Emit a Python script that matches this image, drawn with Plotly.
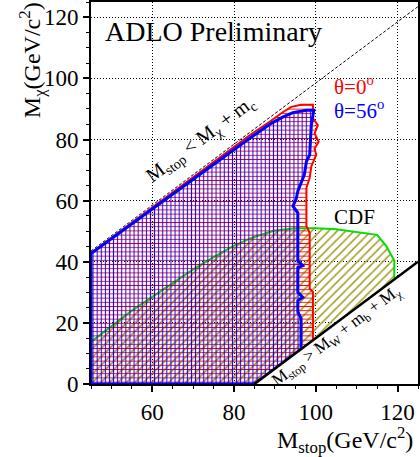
import plotly.graph_objects as go

# ---------------- data ----------------
# theta = 0 deg excluded region (red)
red_x = [45, 85, 99.3, 99.3, 98.5, 98.5, 97.7, 97.7, 98.5, 98.9, 100.1, 99.7, 100.7,
         99.7, 100.5, 99.3, 99.3, 96.4, 94.0, 92.0, 88.7, 83.8, 45, 45]
red_y = [0, 0, 14.3, 30.1, 31.2, 49.5, 51.7, 64.2, 67.4, 71.2, 75.0, 77.1, 79.3,
         82.0, 84.7, 86.9, 91.4, 91.4, 90.7, 89.0, 85.8, 81.4, 42.9, 0]

# theta = 56 deg excluded region (blue)
blue_x = [45, 85, 96.4, 96.4, 95.6, 95.6, 96.8, 95.6, 95.6, 96.8, 95.6, 95.6, 94.4,
          95.2, 95.6, 96.4, 97.2, 97.7, 98.5, 98.9, 99.3, 99.5, 97.7, 94.4, 92.0,
          89.1, 83.8, 45, 45]
blue_y = [0, 0, 11.4, 21.4, 23.6, 27.3, 28.4, 30.0, 38.1, 38.7, 40.4, 56.0, 58.2,
          60.5, 63.1, 65.8, 68.5, 72.8, 75.0, 84.7, 88.0, 89.6, 89.6, 88.8, 87.4,
          85.3, 80.4, 42.7, 0]

# CDF excluded region (green)
cdf_x = [45, 50, 55, 60, 65, 70, 75, 80, 85, 90, 95, 100, 105, 110, 115, 117.2,
         119.2, 119.2, 85, 45, 45]
cdf_y = [13.8, 19.0, 24.0, 28.5, 33.0, 37.5, 41.5, 45.3, 48.2, 50.2, 51.0, 51.0,
         50.6, 49.8, 48.8, 45.2, 40.4, 34.2, 0, 0, 13.8]

# kinematic limits
diag_x = [45, 125]          # M_stop = M_chi + m_c
diag_y = [43.5, 123.5]
kin_x = [85, 125]           # M_stop = M_W + m_b + M_chi
kin_y = [0, 40]
white_x = [85, 125, 125, 85]
white_y = [0, 0, 40, 0]

x_ticks = [60, 80, 100, 120]
y_ticks = [0, 20, 40, 60, 80, 100, 120]

FONT = "Liberation Serif"

fig = go.Figure()

fig.add_trace(go.Scatter(
    x=cdf_x, y=cdf_y, mode="lines", fill="toself",
    fillcolor="rgba(0,0,0,0)",
    fillpattern=dict(shape="/", size=6, solidity=0.25, fgcolor="#a09a1e",
                     bgcolor="rgba(0,0,0,0)", fillmode="replace"),
    line=dict(color="#00e000", width=2), hoverinfo="skip"))

fig.add_trace(go.Scatter(
    x=red_x, y=red_y, mode="lines", fill="toself",
    fillcolor="rgba(0,0,0,0)",
    fillpattern=dict(shape="-", size=4.2, solidity=0.22, fgcolor="#ff0000",
                     bgcolor="rgba(0,0,0,0)", fillmode="replace"),
    line=dict(color="#ff0000", width=2), hoverinfo="skip"))

fig.add_trace(go.Scatter(
    x=blue_x, y=blue_y, mode="lines", fill="toself",
    fillcolor="rgba(0,0,0,0)",
    fillpattern=dict(shape="|", size=4.1, solidity=0.25, fgcolor="#0000ff",
                     bgcolor="rgba(0,0,0,0)", fillmode="replace"),
    line=dict(color="#0000ff", width=3), hoverinfo="skip"))

fig.add_trace(go.Scatter(
    x=white_x, y=white_y, mode="lines", fill="toself", fillcolor="white",
    line=dict(width=0, color="white"), hoverinfo="skip"))

fig.add_trace(go.Scatter(
    x=kin_x, y=kin_y, mode="lines", line=dict(color="black", width=2.5),
    hoverinfo="skip"))

fig.add_trace(go.Scatter(
    x=diag_x, y=diag_y, mode="lines",
    line=dict(color="black", width=1, dash="3px,2px"), hoverinfo="skip"))

axis_common = dict(
    showline=True, linecolor="black", linewidth=2, mirror=True,
    ticks="outside", ticklen=6, tickwidth=1.5, tickcolor="black",
    showgrid=True, gridcolor="black", gridwidth=1, griddash="1px,2px",
    zeroline=False,
    tickfont=dict(family=FONT, size=23, color="black"),
    minor=dict(dtick=5, ticks="outside", ticklen=3, tickwidth=1.2,
               tickcolor="black", showgrid=False),
)

fig.update_xaxes(range=[45, 125], tickvals=x_ticks, **axis_common)
fig.update_yaxes(range=[0, 125], tickvals=y_ticks, **axis_common)

ann = []
ann.append(dict(text="ADLO Preliminary", x=47.9, y=115.2, xref="x", yref="y",
                xanchor="left", yanchor="middle", showarrow=False,
                font=dict(family=FONT, size=28, color="black")))
ann.append(dict(text="θ=0<sup>o</sup>", x=104.0, y=97.7, xref="x", yref="y",
                xanchor="left", yanchor="middle", showarrow=False,
                font=dict(family=FONT, size=21, color="#ff0000")))
ann.append(dict(text="θ=56<sup>o</sup>", x=104.0, y=89.8, xref="x", yref="y",
                xanchor="left", yanchor="middle", showarrow=False,
                font=dict(family=FONT, size=21, color="#0000ff")))
ann.append(dict(text="CDF", x=104.0, y=54.7, xref="x", yref="y",
                xanchor="left", yanchor="middle", showarrow=False,
                font=dict(family=FONT, size=21, color="black")))
ann.append(dict(text="M<sub>stop</sub> &lt; M<sub>χ</sub> + m<sub>c</sub>",
                x=71.9, y=80.0, xref="x", yref="y", textangle=-36.9,
                xanchor="center", yanchor="middle", showarrow=False,
                font=dict(family=FONT, size=20, color="black")))
ann.append(dict(text="M<sub>stop</sub> &gt; M<sub>W</sub> + m<sub>b</sub> + M<sub>χ</sub>",
                x=105.3, y=15.6, xref="x", yref="y", textangle=-36.9,
                xanchor="center", yanchor="middle", showarrow=False,
                font=dict(family=FONT, size=17, color="black")))
ann.append(dict(text="M<sub>stop</sub>(GeV/c<sup>2</sup>)",
                x=(416 - 91) / 328, y=(384 - 440) / 384, xref="paper", yref="paper",
                xanchor="right", yanchor="middle", showarrow=False,
                font=dict(family=FONT, size=24, color="black")))
ann.append(dict(text="M<sub>χ</sub>(GeV/c<sup>2</sup>)", textangle=-90,
                x=(32 - 91) / 328, y=1 + 2 / 384, xref="paper", yref="paper",
                xanchor="center", yanchor="top", showarrow=False,
                font=dict(family=FONT, size=24, color="black")))

fig.update_layout(
    width=420, height=457,
    margin=dict(l=91, r=1, t=0, b=73, pad=0),
    paper_bgcolor="white", plot_bgcolor="white",
    showlegend=False, annotations=ann,
)

fig.write_html(
    "out.html",
    config={"displayModeBar": False},
    post_script="document.body.style.margin='0';document.body.style.overflow='hidden';",
)
